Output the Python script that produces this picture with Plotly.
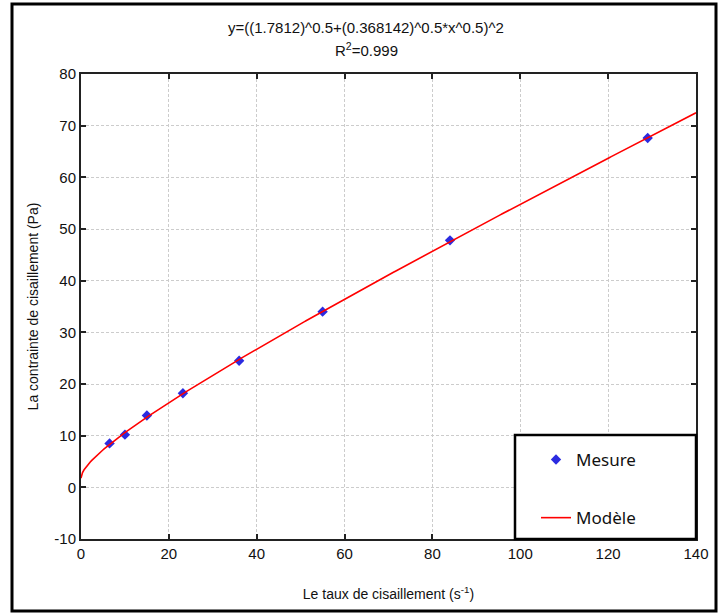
import numpy as np
import plotly.graph_objects as go

# Measured points: shear rate (1/s) and shear stress (Pa)
shear_rate = [6.5, 10.0, 15.0, 23.2, 36.0, 55.0, 84.0, 129.0]
shear_stress = [8.5, 10.2, 13.9, 18.2, 24.5, 34.0, 47.8, 67.6]

# Casson model parameters from the fitted equation
tau0 = 1.7812
eta_c = 0.368142
r_squared = 0.999

x_ticks = [0, 20, 40, 60, 80, 100, 120, 140]
y_ticks = [-10, 0, 10, 20, 30, 40, 50, 60, 70, 80]
y_tick_labels = ["-10", "0", "10", "20", "30", "40", "50", "60", "70", "80"]

x_model = np.linspace(0, 140, 400)
y_model = (np.sqrt(tau0) + np.sqrt(eta_c) * np.sqrt(x_model)) ** 2

W, H = 721, 614
ML, MR, MT, MB = 81, 25, 74, 75
pw, ph = W - ML - MR, H - MT - MB


def px(xp):
    return (xp - ML) / pw


def py(yp):
    return (H - MB - yp) / ph


fig = go.Figure()
fig.add_trace(go.Scatter(
    x=shear_rate, y=shear_stress, mode="markers", name="Mesure",
    legendgroup="a",
    marker=dict(symbol="diamond", size=8, color="#2b2be0"),
))
fig.add_trace(go.Scatter(
    x=x_model, y=y_model, mode="lines", name="Modèle",
    legendgroup="b",
    line=dict(color="#ff0000", width=1.6),
))

axis_common = dict(
    showline=True, linecolor="#222222", linewidth=2, mirror="ticks",
    ticks="inside", ticklen=5, tickcolor="#222222", tickwidth=1.5,
    showgrid=True, gridcolor="#cccccc", griddash="3px,2px", gridwidth=1,
    zeroline=False,
    tickfont=dict(family="Liberation Sans, Arial", size=15, color="#111111"),
)

fig.update_xaxes(
    range=[0, 140], tickvals=x_ticks,
    title=dict(text="Le taux de cisaillement (s<sup>-1</sup>)",
               font=dict(family="Liberation Sans, Arial", size=14, color="#111111"),
               standoff=28),
    **axis_common,
)
fig.update_yaxes(
    range=[-10, 80], tickvals=y_ticks, ticktext=y_tick_labels,
    title=dict(text="La contrainte de cisaillement (Pa)",
               font=dict(family="Liberation Sans, Arial", size=14, color="#111111"),
               standoff=12),
    **axis_common,
)

# Two-line heading with the fitted equation and R²
fig.add_annotation(
    xref="paper", yref="paper", x=px(366), y=py(27), xanchor="center", yanchor="middle",
    text="y=((%g)^0.5+(%g)^0.5*x^0.5)^2" % (tau0, eta_c), showarrow=False,
    font=dict(family="Liberation Sans, Arial", size=15, color="#111111"),
)
fig.add_annotation(
    xref="paper", yref="paper", x=px(366), y=py(49), xanchor="center", yanchor="middle",
    text="R<sup>2</sup>=%g" % r_squared, showarrow=False,
    font=dict(family="Liberation Sans, Arial", size=15, color="#111111"),
)

# Outer frame around the whole figure and the boxed legend area
fig.add_shape(type="rect", xref="paper", yref="paper",
              x0=px(12), x1=px(716), y0=py(611), y1=py(4),
              line=dict(color="#000000", width=3), layer="above")
fig.add_shape(type="rect", xref="paper", yref="paper",
              x0=px(515), x1=1.0, y0=0.0, y1=py(435),
              line=dict(color="#000000", width=2.5), fillcolor="white", layer="above")

fig.update_layout(
    width=W, height=H,
    margin=dict(l=ML, r=MR, t=MT, b=MB),
    paper_bgcolor="white", plot_bgcolor="white",
    showlegend=True,
    legend=dict(
        x=px(536), y=py(442), xanchor="left", yanchor="top",
        bgcolor="rgba(0,0,0,0)", borderwidth=0,
        tracegroupgap=33,
        font=dict(family="Noto Sans, Lato", size=17, color="#111111"),
        itemwidth=30,
    ),
)

fig.write_html("out.html")
